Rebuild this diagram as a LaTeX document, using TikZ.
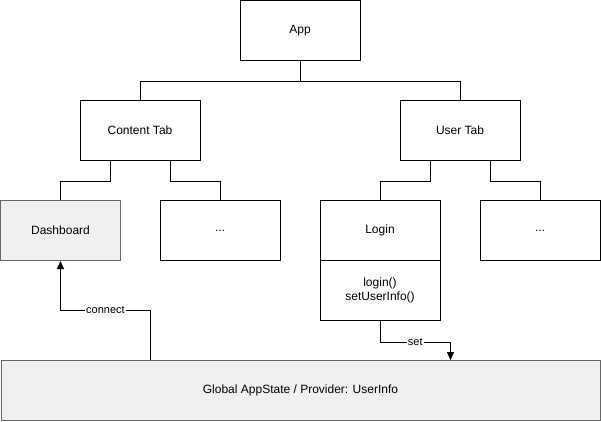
\documentclass[tikz,border=0pt]{standalone}
\usepackage{fontspec}
\setmainfont{Liberation Sans}
\usetikzlibrary{arrows.meta}
\definecolor{grayfill}{HTML}{F0F0F0}
\definecolor{grayline}{HTML}{666666}
\begin{document}
\begin{tikzpicture}[x=1pt,y=-1pt,
  box/.style={draw=black,line width=1pt,fill=white,minimum width=120pt,minimum height=60pt,inner sep=0pt,font=\fontsize{12}{14}\selectfont,align=center},
  graybox/.style={box,draw=grayline,fill=grayfill},
  conn/.style={draw=black,line width=1pt},
  arr/.style={conn,-{Triangle[width=7pt,length=8pt]}},
  lbl/.style={fill=white,inner sep=1pt,font=\fontsize{11}{13}\selectfont}]
\useasboundingbox (0,0) rectangle (601,421);
\node[box] (app) at (300,30.5) {App};
\node[box] (ctab) at (140,130.5) {Content Tab};
\node[box] (utab) at (460,130.5) {User Tab};
\node[graybox] (dash) at (60.5,230.5) {Dashboard};
\node[box] (dots1) at (220,230.5) {...};
\node[box] (login) at (380,230.5) {Login};
\node[box] (loginm) at (380,290.5) {login()\\setUserInfo()};
\node[box] (dots2) at (540,230.5) {...};
\node[graybox,minimum width=599pt] (glob) at (300.5,390.5) {Global AppState / Provider: UserInfo};
\draw[conn] (app.south) -- ++(0,20) -| (ctab.north);
\draw[conn] (app.south) -- ++(0,20) -| (utab.north);
\draw[conn] ([xshift=-30pt]ctab.south) -- ++(0,20) -| (dash.north);
\draw[conn] ([xshift=30pt]ctab.south) -- ++(0,20) -| (dots1.north);
\draw[conn] ([xshift=-30pt]utab.south) -- ++(0,20) -| (login.north);
\draw[conn] ([xshift=30pt]utab.south) -- ++(0,20) -| (dots2.north);
\draw[arr] ([xshift=150pt]glob.north west) -- ++(0,-50) -| (dash.south) node[pos=0.25,lbl] {connect};
\draw[arr] (loginm.south) -- ++(0,21) -| ([xshift=150pt]glob.north) node[pos=0.25,lbl] {set};
\end{tikzpicture}
\end{document}
